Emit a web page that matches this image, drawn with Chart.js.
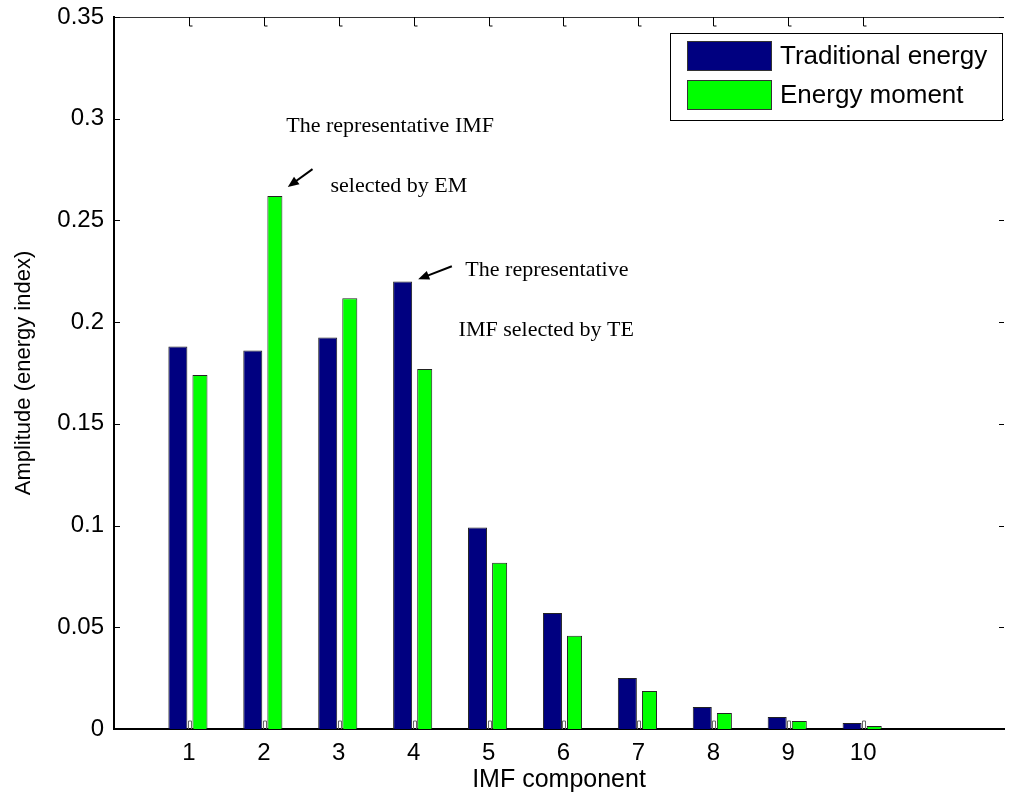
<!DOCTYPE html>
<html>
<head>
<meta charset="utf-8">
<script src="https://cdn.jsdelivr.net/npm/chart.js@4.4.0/dist/chart.umd.min.js"></script>
<style>
  html, body { margin: 0; padding: 0; background: #fff; }
  #wrap { width: 1010px; height: 807px; }
</style>
</head>
<body>
<div id="wrap"><canvas id="chart" width="1010" height="807"></canvas></div>
<script>
// --- Datos ---
const componentes = [1, 2, 3, 4, 5, 6, 7, 8, 9, 10];
const energiaTradicional = [0.188, 0.186, 0.1925, 0.220, 0.099, 0.057, 0.0251, 0.0108, 0.0059, 0.0030];
const momentoEnergia = [0.174, 0.262, 0.2117, 0.177, 0.0817, 0.0458, 0.0187, 0.0079, 0.0039, 0.0015];
const yTicks = [0, 0.05, 0.1, 0.15, 0.2, 0.25, 0.3, 0.35];
const yTickLabels = ['0', '0.05', '0.1', '0.15', '0.2', '0.25', '0.3', '0.35'];
const leyendas = ['Traditional energy', 'Energy moment'];
const colores = ['#000080', '#00ff00'];

// notas con flecha: texto en coordenadas de datos
const notas = [
  { x: 2.30, y: 0.2964, txt: 'The representative IMF' },
  { x: 2.89, y: 0.2668, txt: 'selected by EM' },
  { x: 4.69, y: 0.2255, txt: 'The representative' },
  { x: 4.60, y: 0.1959, txt: 'IMF selected by TE' }
];
const flechas = [
  { x0: 2.65, y0: 0.2752, x1: 2.32, y1: 0.2664 },
  { x0: 4.51, y0: 0.2275, x1: 4.06, y1: 0.2211 }
];

const fuenteSans = '"Liberation Sans", Arial, sans-serif';
const fuenteSerif = '"Liberation Serif", "Times New Roman", serif';

// --- Marcas, borde superior, leyenda y notas ---
const extras = {
  id: 'extras',
  afterDraw(chart) {
    const { ctx, chartArea: a, scales: { x, y } } = chart;
    ctx.save();

    // borde superior
    ctx.strokeStyle = '#333';
    ctx.lineWidth = 1;
    ctx.beginPath();
    ctx.moveTo(a.left, a.top + 0.5);
    ctx.lineTo(a.right, a.top + 0.5);
    ctx.stroke();

    // marcas hacia dentro en x (abajo y arriba)
    componentes.forEach(c => {
      const px = Math.round(x.getPixelForValue(c)) + 0.5;
      ctx.strokeStyle = '#666';
      ctx.beginPath();
      ctx.moveTo(px - 1, a.bottom);
      ctx.lineTo(px - 1, a.bottom - 8);
      ctx.lineTo(px + 2, a.bottom - 8);
      ctx.lineTo(px + 2, a.bottom);
      ctx.stroke();
      ctx.strokeStyle = '#000';
      ctx.beginPath();
      ctx.moveTo(px, a.top);
      ctx.lineTo(px, a.top + 9);
      ctx.lineTo(px + 3, a.top + 9);
      ctx.stroke();
    });

    // marcas en y (izquierda y derecha)
    yTicks.forEach(v => {
      const py = Math.round(y.getPixelForValue(v)) + 0.5;
      ctx.strokeStyle = '#000';
      ctx.beginPath();
      ctx.moveTo(a.left, py);
      ctx.lineTo(a.left + 6, py);
      ctx.stroke();
      ctx.beginPath();
      ctx.moveTo(a.right - 5, py);
      ctx.lineTo(a.right, py);
      ctx.stroke();
    });

    // leyenda
    const lx = 670, ly = 33, lw = 332, lh = 87;
    ctx.fillStyle = '#fff';
    ctx.fillRect(lx, ly, lw, lh);
    ctx.strokeStyle = '#000';
    ctx.lineWidth = 1;
    ctx.strokeRect(lx + 0.5, ly + 0.5, lw, lh);
    ctx.font = '26px ' + fuenteSans;
    ctx.textBaseline = 'middle';
    leyendas.forEach((t, i) => {
      const sy = 41 + i * 39;
      ctx.fillStyle = colores[i];
      ctx.fillRect(687, sy, 84, 29);
      ctx.strokeStyle = '#333';
      ctx.strokeRect(687.5, sy + 0.5, 84, 29);
      ctx.fillStyle = '#000';
      ctx.fillText(t, 780, sy + 16);
    });

    // notas
    ctx.font = '22px ' + fuenteSerif;
    ctx.textBaseline = 'middle';
    ctx.textAlign = 'left';
    ctx.fillStyle = '#000';
    notas.forEach(n => {
      ctx.fillText(n.txt, x.getPixelForValue(n.x), y.getPixelForValue(n.y));
    });

    // flechas
    flechas.forEach(f => {
      const x0 = x.getPixelForValue(f.x0), y0 = y.getPixelForValue(f.y0);
      const x1 = x.getPixelForValue(f.x1), y1 = y.getPixelForValue(f.y1);
      const ang = Math.atan2(y1 - y0, x1 - x0);
      ctx.strokeStyle = '#000';
      ctx.lineWidth = 2;
      ctx.beginPath();
      ctx.moveTo(x0, y0);
      ctx.lineTo(x1 - 6 * Math.cos(ang), y1 - 6 * Math.sin(ang));
      ctx.stroke();
      ctx.beginPath();
      ctx.moveTo(x1, y1);
      ctx.lineTo(x1 - 12 * Math.cos(ang - 0.4), y1 - 12 * Math.sin(ang - 0.4));
      ctx.lineTo(x1 - 12 * Math.cos(ang + 0.4), y1 - 12 * Math.sin(ang + 0.4));
      ctx.closePath();
      ctx.fillStyle = '#000';
      ctx.fill();
    });

    ctx.restore();
  }
};

// --- Gráfico ---
const ctx = document.getElementById('chart').getContext('2d');
const myChart = new Chart(ctx, {
  type: 'bar',
  data: {
    datasets: [
      {
        label: leyendas[0],
        data: componentes.map((c, i) => ({ x: c, y: energiaTradicional[i] })),
        backgroundColor: colores[0],
        borderColor: '#222',
        borderWidth: 1,
        categoryPercentage: 0.59,
        barPercentage: 0.86
      },
      {
        label: leyendas[1],
        data: componentes.map((c, i) => ({ x: c, y: momentoEnergia[i] })),
        backgroundColor: colores[1],
        borderColor: '#222',
        borderWidth: 1,
        categoryPercentage: 0.59,
        barPercentage: 0.68
      }
    ]
  },
  options: {
    responsive: false,
    animation: false,
    layout: { padding: { top: 17, right: 6, left: 0, bottom: 0 } },
    plugins: { legend: { display: false }, tooltip: { enabled: false } },
    scales: {
      x: {
        type: 'linear',
        min: 0,
        max: 11.88,
        offset: false,
        afterFit: s => { s.height = 78; s.paddingLeft = 0; s.paddingRight = 0; },
        afterBuildTicks: s => { s.ticks = componentes.map(v => ({ value: v })); },
        ticks: { color: '#000', font: { family: fuenteSans, size: 24 }, padding: 10, maxRotation: 0, autoSkip: false },
        grid: { display: false, drawTicks: false },
        border: { display: true, color: '#000', width: 2 },
        title: { display: true, text: 'IMF component', color: '#000', font: { family: fuenteSans, size: 25 }, padding: { top: 12, bottom: 12 } }
      },
      y: {
        min: 0,
        max: 0.35,
        afterFit: s => { s.width = 114; s.paddingTop = 0; s.paddingBottom = 0; },
        afterBuildTicks: s => { s.ticks = yTicks.map(v => ({ value: v })); },
        ticks: { color: '#000', font: { family: fuenteSans, size: 24 }, padding: 10, callback: (v, i) => yTickLabels[i] },
        grid: { display: false, drawTicks: false },
        border: { display: true, color: '#000', width: 2 },
        title: { display: true, text: 'Amplitude (energy index)', color: '#000', font: { family: fuenteSans, size: 22 }, padding: { top: 11, bottom: 11 } }
      }
    }
  },
  plugins: [extras]
});
</script>
</body>
</html>
